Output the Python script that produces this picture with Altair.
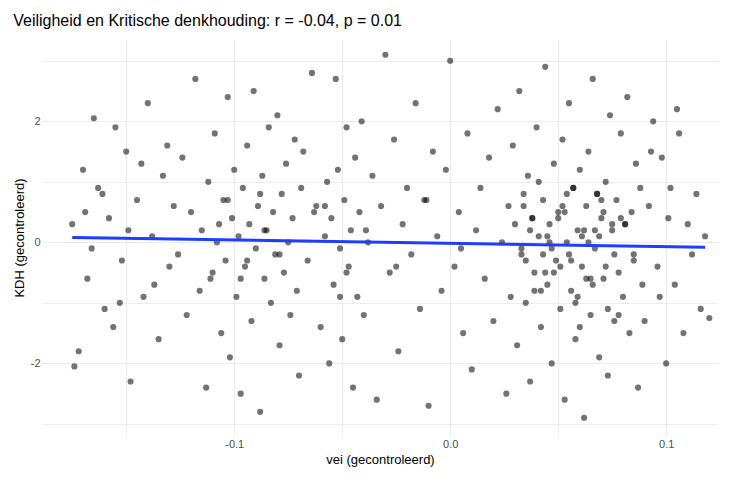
import altair as alt
import pandas as pd

# points read (approximately) from the picture, by region of vei
vei = [
  -0.175, -0.172, -0.170, -0.168, -0.165, -0.163, -0.160, -0.158, -0.155, -0.152,
  -0.150, -0.148, -0.145, -0.142, -0.140, -0.138, -0.135, -0.133, -0.130, -0.128,
  -0.174, -0.166, -0.161, -0.156, -0.149, -0.143, -0.137, -0.131, -0.169, -0.153,
  -0.126, -0.124, -0.122, -0.120, -0.118, -0.116, -0.115, -0.113, -0.112, -0.110,
  -0.109, -0.108, -0.106, -0.105, -0.104, -0.103, -0.102, -0.101, -0.100, -0.099,
  -0.098, -0.097, -0.096, -0.095, -0.094, -0.093, -0.092, -0.091, -0.090, -0.089,
  -0.088, -0.087, -0.086, -0.085, -0.084, -0.083, -0.082, -0.081, -0.080, -0.079,
  -0.078, -0.077, -0.076, -0.075, -0.074, -0.073, -0.072, -0.071, -0.070, -0.069,
  -0.068, -0.066, -0.064, -0.062, -0.060, -0.058, -0.057, -0.056, -0.055, -0.054,
  -0.053, -0.052, -0.051, -0.050, -0.049, -0.048, -0.047, -0.046, -0.045, -0.044,
  -0.043, -0.042, -0.041, -0.040, -0.038, -0.036, -0.034, -0.032, -0.030, -0.028,
  -0.026, -0.024, -0.022, -0.020, -0.018, -0.016, -0.014, -0.012, -0.010, -0.008,
  -0.006, -0.004, -0.002, 0.000, 0.002, 0.004, 0.006, 0.008, 0.010, 0.012,
  0.014, 0.016, 0.018, 0.020, 0.022, 0.024, 0.026, 0.027, 0.028, 0.029,
  0.030, 0.031, 0.032, 0.033, 0.034, 0.035, 0.036, 0.037, 0.038, 0.039,
  0.040, 0.041, 0.042, 0.043, 0.044, 0.045, 0.046, 0.047, 0.048, 0.049,
  0.050, 0.051, 0.052, 0.053, 0.054, 0.055, 0.056, 0.057, 0.058, 0.059,
  0.060, 0.061, 0.062, 0.063, 0.064, 0.065, 0.066, 0.067, 0.068, 0.069,
  0.070, 0.071, 0.072, 0.073, 0.074, 0.075, 0.076, 0.077, 0.078, 0.079,
  0.080, 0.081, 0.082, 0.083, 0.084, 0.085, 0.086, 0.087, 0.088, 0.089,
  0.035, 0.038, 0.042, 0.045, 0.048, 0.052, 0.055, 0.058, 0.062, 0.065,
  0.068, 0.072, 0.075, 0.078, 0.041, 0.047, 0.053, 0.059, 0.064, 0.070,
  0.090, 0.092, 0.094, 0.096, 0.098, 0.100, 0.102, 0.104, 0.106, 0.108,
  0.110, 0.112, 0.114, 0.116, 0.118, 0.120, 0.093, 0.097, 0.101, 0.105,
  -0.107, -0.097, -0.088, -0.079, -0.063, -0.051, -0.039, -0.025, -0.011, 0.005,
  0.033, 0.037, 0.044, 0.050, 0.056, 0.061, 0.066, 0.071, 0.076, 0.081,
  0.034, 0.039, 0.046, 0.051, 0.057, 0.063, 0.067, 0.073, 0.079, 0.085,
  -0.111, -0.103, -0.094, -0.086, -0.058, -0.048, 0.043, 0.054, 0.060, 0.069,
]
kdh = [
  0.3, -1.8, 1.2, -0.6, 2.05, 0.9, -1.1, 0.4, 1.9, -0.3,
  1.5, -2.3, 0.7, -0.9, 2.3, 0.1, -1.6, 1.1, -0.4, 0.6,
  -2.05, -0.1, 0.8, -1.4, 0.2, 1.3, -0.7, 1.6, 0.5, -1.0,
  -0.2, 1.4, -1.2, 0.5, 2.7, -0.8, 0.2, -2.4, 1.0, -0.5,
  1.8, 0.0, -1.5, 0.7, -0.3, 2.4, -1.9, 0.4, 1.2, -0.9,
  0.1, -2.5, 0.9, -0.4, 1.6, 0.3, -1.3, 2.5, -0.1, 0.6,
  -2.8, 1.1, -0.6, 0.2, 1.9, -1.0, 0.5, -0.2, 2.1, -1.7,
  0.8, -0.5, 1.3, 0.0, -1.2, 0.4, 1.7, -0.8, -2.2, 0.9,
  1.5, -0.3, 2.8, 0.6, -1.4, 0.1, 1.0, -2.0, 0.4, -0.7,
  2.7, 1.2, -0.1, -1.6, 0.7, 1.9, -0.4, 0.2, -2.4, 1.4,
  -0.9, 0.5, 2.0, -1.2, 0.0, 1.1, -2.6, 0.6, 3.1, -0.5,
  1.7, -1.8, 0.3, 0.9, -0.2, 2.3, -1.1, 0.7, -2.7, 1.5,
  0.1, -0.8, 1.2, 3.0, -0.4, 0.5, -1.5, 1.8, -2.1, 0.2,
  0.9, -0.6, 1.4, -1.3, 2.2, 0.0, -2.5, 0.6, -0.9, 1.6,
  0.3, -1.7, 2.5, -0.2, 0.8, -1.0, 1.1, -2.3, 0.4, -0.5,
  1.9, 0.1, -1.4, 0.7, 2.9, -0.7, 0.3, -2.0, 1.3, -0.3,
  0.5, -1.1, 1.7, -2.6, 0.0, 2.3, -0.8, 0.9, -1.6, 0.2,
  1.2, -0.4, -2.9, 0.6, 1.5, -1.2, 2.7, -0.1, 0.8, -1.9,
  0.4, -0.6, 1.0, -2.2, 2.1, 0.2, -1.3, 0.7, -0.5, 1.8,
  -0.9, 0.3, 2.4, -1.5, 0.5, -0.2, 1.3, -2.4, 0.9, -0.7,
  -0.3, 0.4, -0.8, 0.1, -0.5, 0.6, -0.2, -1.0, 0.2, -0.6,
  0.8, -0.4, 0.3, -1.2, 1.0, -0.1, 0.5, -0.9, 0.0, 0.7,
  -1.3, 0.6, 2.0, -0.4, 1.4, -2.0, 0.9, -0.7, 1.8, -1.5,
  0.3, -0.2, 0.8, -1.1, 0.1, -1.25, 1.5, -0.9, 0.4, 2.2,
  0.3, -0.6, 0.8, -0.2, 0.5, -0.9, 0.2, -0.4, 0.7, -0.1,
  -0.1, 0.2, -0.5, 0.4, -0.3, 0.1, -0.7, 0.5, -0.2, 0.3,
  0.6, -0.8, 0.0, -0.4, 0.9, -0.6, 0.2, -1.1, 0.4, -0.3,
  -0.6, 0.7, -0.3, 0.2, 0.6, -0.5, -0.2, 0.8, -1.4, 0.1,
]

# fitted line endpoints
fit_vei = [-0.175, 0.118]
fit_kdh = [0.08, -0.08]

points = pd.DataFrame({'vei': vei, 'kdh': kdh})
fit = pd.DataFrame({'vei': fit_vei, 'kdh': fit_kdh})

x_ticks = [-0.15, -0.1, -0.05, 0.0, 0.05, 0.1]
y_ticks = [-3, -2, -1, 0, 1, 2, 3]

x_scale = alt.Scale(domain=[-0.189, 0.124], nice=False, zero=False)
y_scale = alt.Scale(domain=[-3.2, 3.36], nice=False, zero=False)

x_axis = alt.Axis(
  values=x_ticks, title='vei (gecontroleerd)',
  labelExpr="datum.value == 0 ? '0.0' : (indexof([-0.1, 0.1], datum.value) >= 0 ? toString(datum.value) : '')",
  domain=False, ticks=False, gridColor='#ebebeb', labelColor='#4d4d4d',
  labelFontSize=11, titleFontSize=13, titleFontWeight='normal'
)
y_axis = alt.Axis(
  values=y_ticks, title='KDH (gecontroleerd)',
  labelExpr="indexof([-2, 0, 2], datum.value) >= 0 ? toString(datum.value) : ''",
  domain=False, ticks=False, gridColor='#ebebeb', labelColor='#4d4d4d',
  labelFontSize=11, titleFontSize=13, titleFontWeight='normal'
)

scatter = alt.Chart(points).mark_circle(size=38, color='black', opacity=0.55).encode(
  x=alt.X('vei:Q', scale=x_scale, axis=x_axis),
  y=alt.Y('kdh:Q', scale=y_scale, axis=y_axis)
)

line = alt.Chart(fit).mark_line(color='#1f3cff', strokeWidth=3).encode(
  x='vei:Q',
  y='kdh:Q'
)

chart = (scatter + line).properties(
  width=715,
  height=463,
  title=alt.Title('Veiligheid en Kritische denkhouding: r = -0.04, p = 0.01',
                  anchor='start', fontSize=16, fontWeight='normal', offset=10),
  autosize=alt.AutoSizeParams(type='fit', contains='padding')
).configure(font='Liberation Sans').configure_view(stroke=None)

chart.save("out.html", embed_options={"renderer": "svg", "actions": False})
